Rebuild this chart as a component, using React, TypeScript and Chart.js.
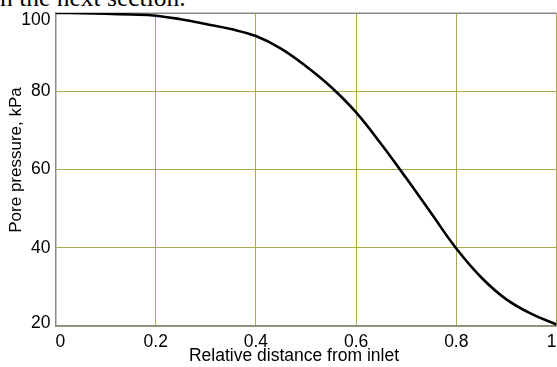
import React, { useEffect, useRef } from "react";
import { Chart, registerables } from "chart.js";

Chart.register(...registerables);

const distance = [0, 0.05, 0.1, 0.15, 0.2, 0.25, 0.3, 0.35, 0.4, 0.45, 0.5, 0.55, 0.6, 0.65, 0.7, 0.75, 0.8, 0.85, 0.9, 0.95, 1.0];
const pressure = [100, 99.95, 99.8, 99.6, 99.3, 98.4, 97.2, 95.9, 94.1, 90.9, 86.4, 81.1, 74.6, 66.5, 57.8, 48.8, 39.8, 32.4, 26.8, 23.1, 20.4];

const yTickValues = [20, 40, 60, 80, 100];
const yTickLabels = ["20", "40", "60", "80", "100"];

const xTitle = "Relative distance from inlet";
const yTitle = "Pore pressure, kPa";
const captionText = "in the next section.";

const FONT = "'Liberation Sans', Arial, sans-serif";
const GRID = "#abab4a";
const AXIS = "#8a8a8a";

const framePlugin = {
  id: "frameAndTitle",
  beforeDatasetsDraw(chart: any) {
    const { ctx, chartArea } = chart;
    ctx.save();
    ctx.strokeStyle = AXIS;
    ctx.lineWidth = 1.5;
    ctx.beginPath();
    ctx.moveTo(chartArea.left, chartArea.top + 0.25);
    ctx.lineTo(chartArea.right, chartArea.top + 0.25);
    ctx.stroke();
    ctx.restore();
  },
  afterDraw(chart: any) {
    const { ctx, chartArea } = chart;
    const yScale = chart.scales.y;
    ctx.save();
    ctx.fillStyle = "#000";
    // y tick labels
    ctx.font = `17.5px ${FONT}`;
    ctx.textAlign = "right";
    ctx.textBaseline = "middle";
    yTickValues.forEach((v, i) => {
      let py = yScale.getPixelForValue(v);
      if (i === yTickValues.length - 1) py += 6.7;
      else if (i === 0) py -= 2.5;
      ctx.fillText(yTickLabels[i], chartArea.left - 5, py);
    });
    // x title
    ctx.textAlign = "center";
    ctx.fillText(xTitle, (chartArea.left + chartArea.right) / 2 - 12, chartArea.bottom + 30.5);
    // y title
    ctx.translate(chartArea.left - 39.5, (chartArea.top + chartArea.bottom) / 2 - 9.5);
    ctx.rotate(-Math.PI / 2);
    ctx.font = `17px ${FONT}`;
    ctx.fillText(yTitle, 0, 0);
    ctx.restore();
  },
};

export default function App() {
  const ref = useRef<HTMLCanvasElement | null>(null);

  useEffect(() => {
    if (!ref.current) return;
    const chart = new Chart(ref.current, {
      type: "line",
      data: {
        datasets: [
          {
            data: distance.map((x, i) => ({ x, y: pressure[i] })),
            borderColor: "#000",
            borderWidth: 2.6,
            pointRadius: 0,
            tension: 0.4,
            fill: false,
          },
        ],
      },
      options: {
        animation: false,
        responsive: false,
        layout: { padding: { top: 13, right: 4, left: 0, bottom: 0 } },
        plugins: { legend: { display: false }, tooltip: { enabled: false } },
        scales: {
          x: {
            type: "linear",
            min: 0,
            max: 1,
            afterFit: (s: any) => {
              s.height = 41;
            },
            ticks: {
              stepSize: 0.2,
              align: "inner",
              color: "#000",
              padding: 5.5,
              font: { family: FONT, size: 17.5 },
              callback: (v: any) => String(Number(Number(v).toFixed(2))),
            },
            grid: { color: GRID, lineWidth: 1, drawTicks: false },
            border: { color: AXIS, width: 1.5 },
            title: { display: false },
          },
          y: {
            type: "linear",
            min: 20,
            max: 100,
            afterFit: (s: any) => {
              s.width = 55.5;
            },
            ticks: { stepSize: 20, display: false },
            grid: { color: GRID, lineWidth: 1, drawTicks: false },
            border: { color: AXIS, width: 1.5 },
            title: { display: false },
          },
        },
      },
      plugins: [framePlugin],
    } as any);
    return () => chart.destroy();
  }, []);

  return (
    <div
      style={{
        position: "fixed",
        left: 0,
        top: 0,
        width: 557,
        height: 367,
        overflow: "hidden",
        background: "#fff",
      }}
    >
      <div
        style={{
          position: "absolute",
          left: -7,
          top: -16.5,
          fontFamily: "'Liberation Serif', 'Times New Roman', serif",
          fontSize: 25.5,
          lineHeight: "27px",
          whiteSpace: "nowrap",
          color: "#000",
        }}
      >
        {captionText}
      </div>
      <canvas
        ref={ref}
        width={562}
        height={367}
        style={{ position: "absolute", left: 0, top: 0, width: 562, height: 367 }}
      />
    </div>
  );
}
